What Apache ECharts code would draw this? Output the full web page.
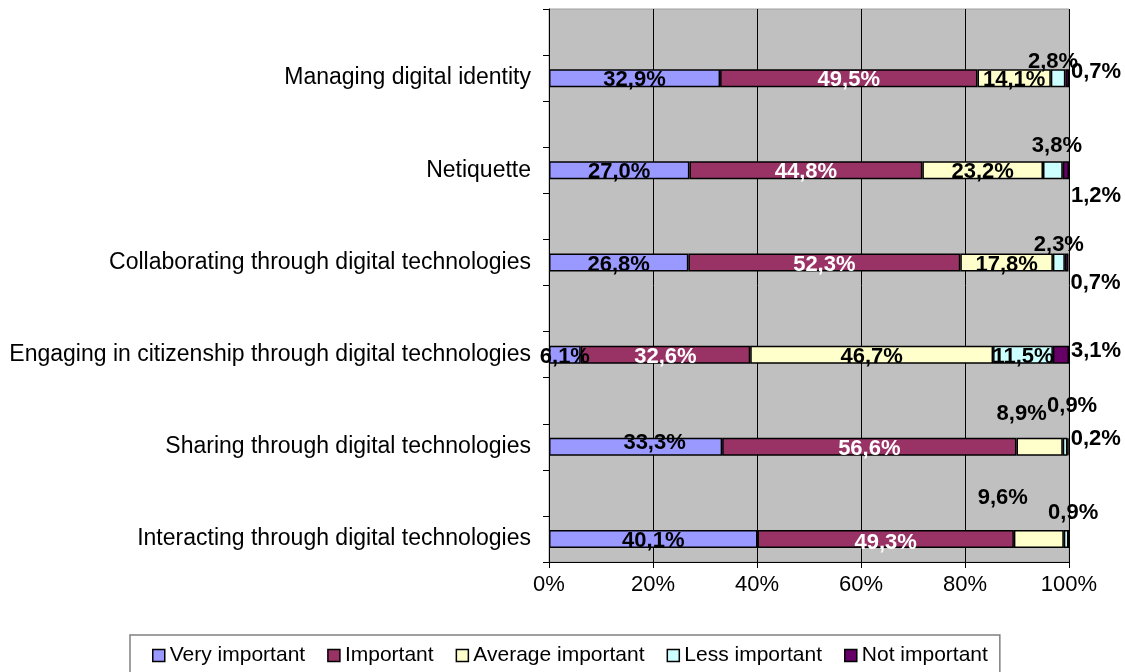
<!DOCTYPE html>
<html>
<head>
<meta charset="utf-8">
<script src="https://cdn.jsdelivr.net/npm/echarts@6/dist/echarts.min.js"></script>
<style>
  html, body { margin: 0; padding: 0; background: #fff; }
  #chart { width: 1125px; height: 672px; }
</style>
</head>
<body>
<div id="chart"></div>
<script>
// categories, top to bottom
const categories = [
  "Managing digital identity",
  "Netiquette",
  "Collaborating through digital technologies",
  "Engaging in citizenship through digital technologies",
  "Sharing through digital technologies",
  "Interacting through digital technologies"
];
const seriesNames = ["Very important", "Important", "Average important", "Less important", "Not important"];
const veryImportant = [32.9, 27.0, 26.8, 6.1, 33.3, 40.1];
const important = [49.5, 44.8, 52.3, 32.6, 56.6, 49.3];
const averageImportant = [14.1, 23.2, 17.8, 46.7, 8.9, 9.6];
const lessImportant = [2.8, 3.8, 2.3, 11.5, 0.9, 0.9];
const notImportant = [0.7, 1.2, 0.7, 3.1, 0.2, 0];
const xTicks = [0, 20, 40, 60, 80, 100];

const colors = ["#9999FF", "#993366", "#FFFFCC", "#CCFFFF", "#660066"];
const labelColors = ["#000", "#fff", "#000", "#000", "#000"];
// label nudges (dx, dy) per series / row, like the moved labels in the original
const nudges = [
  [[0, 2], [0, 2], [0, 2], [0, 2], [19, -4], [0, 2]],
  [[0, 2], [0, 2], [0, 2], [0, 2], [0, 2], [0, 4]],
  [[0, 2], [0, 2], [0, 2], [0, 2], [-18, -33], [-36, -41]],
  [[-5, -16], [4, -24], [0, -18], [0, 2], [7, -41], [7, -26]],
  [[0, -6], [0, 26], [0, 20], [0, -4], [0, -8], [0, 0]]
];

// each bar sits in the lower half of a pair of bands
const yData = [];
categories.forEach((c, i) => { yData.push("gap" + i); yData.push(c); });

const allValues = [veryImportant, important, averageImportant, lessImportant, notImportant];
const fmt = (v) => v.toFixed(1).replace(".", ",") + "%";

const series = seriesNames.map((name, s) => {
  const data = [];
  allValues[s].forEach((v, i) => {
    data.push("-");
    data.push({
      value: v,
      label: {
        show: v > 0,
        position: s === 4 ? "right" : "inside",
        distance: 2,
        offset: nudges[s][i]
      }
    });
  });
  return {
    name: name,
    type: "bar",
    stack: "total",
    barWidth: 18,
    data: data,
    itemStyle: { color: colors[s], borderColor: "#000", borderWidth: 1.5 },
    label: {
      color: labelColors[s],
      fontFamily: "Liberation Sans, Arial, sans-serif",
      fontWeight: "bold",
      fontSize: 22,
      formatter: (p) => fmt(p.value)
    },
    emphasis: { disabled: true }
  };
});

const chart = echarts.init(document.getElementById("chart"));
chart.setOption({
  animation: false,
  textStyle: { fontFamily: "Liberation Sans, Arial, sans-serif" },
  grid: {
    left: 549,
    right: 56,
    top: 9,
    bottom: 110,
    show: true,
    backgroundColor: "#C0C0C0",
    borderColor: "#A0A0A0",
    borderWidth: 1
  },
  legend: {
    data: seriesNames,
    left: 130,
    top: 635,
    padding: [10, 12, 10, 22],
    borderColor: "#808080",
    borderWidth: 1.5,
    itemWidth: 12,
    itemHeight: 12,
    itemGap: 22,
    icon: "rect",
    itemStyle: { borderColor: "#000", borderWidth: 1.5 },
    textStyle: { fontSize: 21, color: "#000" }
  },
  xAxis: {
    type: "value",
    min: xTicks[0],
    max: xTicks[xTicks.length - 1],
    interval: xTicks[1] - xTicks[0],
    axisLine: { show: true, lineStyle: { color: "#000", width: 1 } },
    axisTick: { show: true, length: 6, lineStyle: { color: "#000" } },
    splitLine: { show: true, lineStyle: { color: "#000", width: 1 } },
    axisLabel: { fontSize: 22, color: "#000", margin: 12, formatter: "{value}%" }
  },
  yAxis: {
    type: "category",
    inverse: true,
    data: yData,
    axisLine: { show: true, lineStyle: { color: "#000", width: 1 } },
    axisTick: { show: true, length: 6, lineStyle: { color: "#000" } },
    axisLabel: {
      fontSize: 23,
      color: "#000",
      margin: 18,
      interval: 0,
      formatter: (v) => (v.indexOf("gap") === 0 ? "" : v)
    }
  },
  series: series
});
</script>
</body>
</html>
